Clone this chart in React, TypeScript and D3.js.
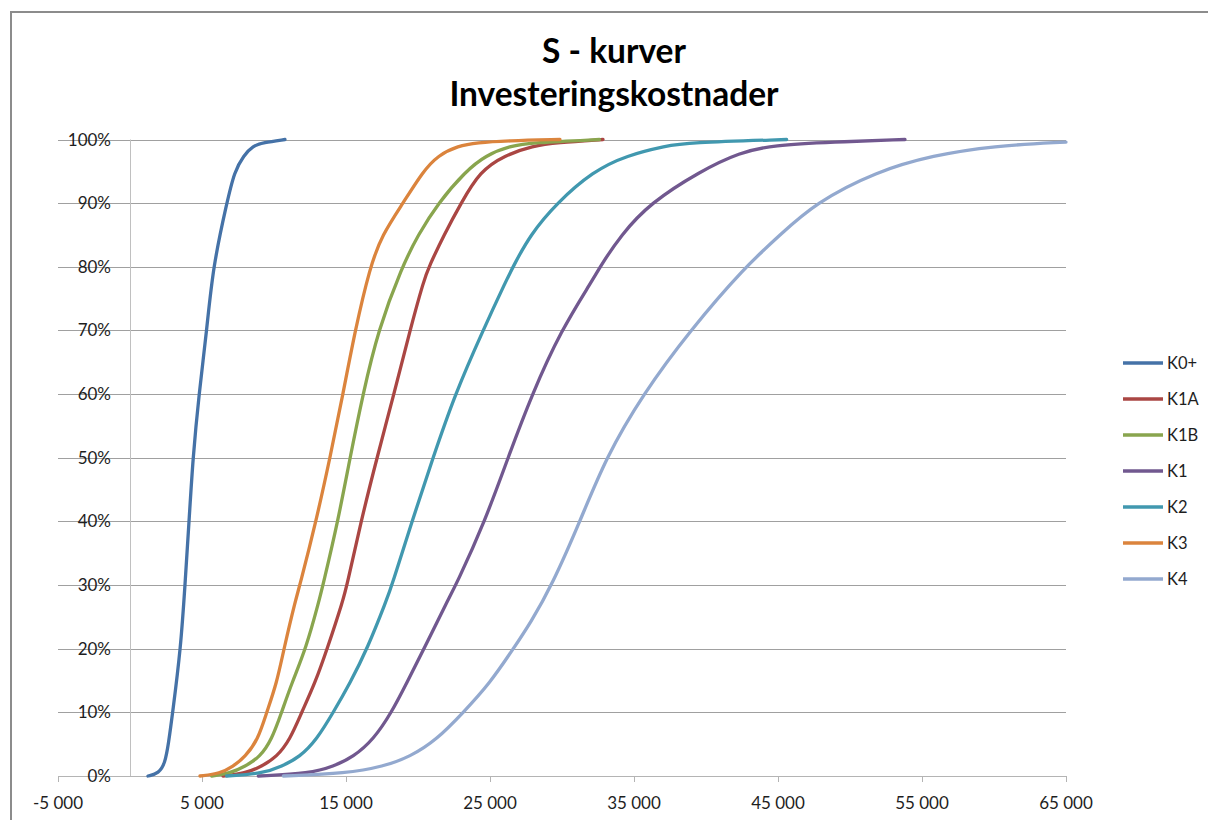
import React from "react";
import * as d3 from "d3";

// Cumulative share (%) of simulated outcomes at or below a given investment cost
type Pt = [number, number];

const seriesNames = ["K0+", "K1A", "K1B", "K1", "K2", "K3", "K4"];
const seriesColors = ["#4572A7", "#AA4643", "#89A54E", "#71588F", "#4198AF", "#DB843D", "#93A9CF"];

const k0plus: Pt[] = [
  [1250, 0], [2000, 0.4], [2430, 2], [2670, 5], [2965, 10], [3520, 20], [3820, 30], [4100, 40],
  [4370, 50], [4790, 60], [5330, 70], [5760, 80], [6720, 90], [7250, 95], [7900, 97.5],
  [8540, 99], [9240, 99.5], [10760, 100],
];
const k1a: Pt[] = [
  [6460, 0], [7990, 0.4], [9140, 1.5], [10190, 3], [11110, 5.7], [11920, 10], [12850, 14.6],
  [13700, 20], [14810, 27.7], [15070, 30], [16040, 40], [17150, 50], [18330, 60], [19440, 70],
  [20420, 78], [20760, 80], [21800, 85], [22990, 90], [24300, 95], [26000, 97.5], [27990, 99],
  [29650, 99.5], [32850, 100],
];
const k1b: Pt[] = [
  [5670, 0], [6940, 0.4], [7990, 1.5], [9030, 3], [9840, 5.7], [10530, 10], [11230, 14.6],
  [12220, 20], [13150, 27.7], [13400, 30], [14440, 40], [15280, 50], [16180, 60], [17220, 70],
  [18890, 80], [20000, 85], [21390, 90], [23300, 95], [24700, 97.5], [26390, 99], [28000, 99.5],
  [32600, 100],
];
const k1: Pt[] = [
  [8910, 0], [12500, 0.4], [14120, 1.5], [15510, 3], [16900, 5.7], [18170, 10], [19210, 14.6],
  [20420, 20], [22080, 27.7], [22640, 30], [24650, 40], [26250, 50], [27920, 60], [29930, 70],
  [32150, 78], [32640, 80], [34100, 85], [36110, 90], [39580, 95], [42360, 98], [44650, 99.1],
  [48820, 99.6], [53820, 100],
];
const k2: Pt[] = [
  [6710, 0], [9240, 0.4], [10530, 1.5], [11800, 3], [12960, 5.7], [14120, 10], [15280, 14.6],
  [16480, 20], [17830, 27.7], [18190, 30], [19580, 40], [21040, 50], [22570, 60], [24510, 70],
  [26160, 78], [26600, 80], [27780, 85], [29630, 90], [32150, 95], [34490, 97.5], [37270, 99],
  [38660, 99.5], [45600, 100],
];
const k3: Pt[] = [
  [4860, 0], [6250, 0.4], [7150, 1.5], [7990, 3], [8890, 5.7], [9490, 10], [10190, 14.6],
  [10690, 20], [11500, 27.7], [11800, 30], [12920, 40], [13890, 50], [14790, 60], [15630, 70],
  [16670, 80], [17500, 85], [18960, 90], [20350, 95], [21390, 97.5], [22780, 99], [24100, 99.5],
  [26180, 99.8], [29860, 100],
];
const k4: Pt[] = [
  [10650, 0], [15050, 0.4], [17590, 1.5], [19440, 3], [21300, 5.7], [23150, 10], [25000, 14.6],
  [26620, 20], [27800, 24], [29310, 30], [31250, 40], [33040, 50], [35620, 60], [38890, 70],
  [42710, 80], [45140, 85], [47570, 90], [51850, 95], [55760, 97.5], [59930, 99], [65000, 99.6],
];
const seriesData: Pt[][] = [k0plus, k1a, k1b, k1, k2, k3, k4];

const xTicks = [-5000, 5000, 15000, 25000, 35000, 45000, 55000, 65000];
const yTicks = [0, 10, 20, 30, 40, 50, 60, 70, 80, 90, 100];
const titleLines = ["S - kurver", "Investeringskostnader"];

const W = 1208;
const H = 820;
const plot = { left: 58, right: 1066, top: 139.5, bottom: 776 };
const FONT = "Lato, 'Open Sans', sans-serif";

// thousands separated by a space, plain hyphen for negatives
const fmtCost = (v: number) => {
  const s = d3.format(",")(Math.abs(v)).replace(/,/g, " ");
  return v < 0 ? "-" + s : s;
};

export default function App() {
  const x = d3.scaleLinear().domain([-5000, 65000]).range([plot.left, plot.right]);
  const y = d3.scaleLinear().domain([0, 100]).range([plot.bottom, plot.top]);
  const line = d3
    .line<Pt>()
    .x((d) => x(d[0]))
    .y((d) => y(d[1]))
    .curve(d3.curveBasis);

  const legendTop = 363;
  const legendStep = 36;

  return (
    <svg
      width={W}
      height={H}
      style={{ position: "absolute", left: 0, top: 0, background: "#fff" }}
      fontFamily={FONT}
    >
      <rect x={0} y={0} width={W} height={H} fill="#fff" />
      {/* chart frame */}
      <rect x={11} y={12} width={W + 20} height={H + 20} fill="none" stroke="#8c8c8c" strokeWidth={2} />

      {/* title */}
      {titleLines.map((t, i) => (
        <text
          key={t}
          x={614}
          y={63 + i * 43}
          textAnchor="middle"
          fontSize={33.5}
          fontWeight="bold"
          fill="#000"
        >
          {t}
        </text>
      ))}

      {/* horizontal gridlines */}
      {yTicks.map((t) => (
        <line
          key={t}
          x1={plot.left}
          x2={plot.right}
          y1={Math.round(y(t)) + 0.5}
          y2={Math.round(y(t)) + 0.5}
          stroke={t === 0 ? "#b4b4b4" : "#a0a0a0"}
          strokeWidth={1}
        />
      ))}

      {/* vertical axis at zero cost */}
      <line x1={Math.round(x(0)) + 0.5} x2={Math.round(x(0)) + 0.5} y1={plot.top} y2={plot.bottom} stroke="#c0c0c0" />

      {/* x ticks */}
      {xTicks.map((t) => (
        <g key={t}>
          <line
            x1={Math.round(x(t)) + 0.5}
            x2={Math.round(x(t)) + 0.5}
            y1={plot.bottom}
            y2={plot.bottom + 6}
            stroke="#b4b4b4"
          />
          <text x={x(t)} y={809} textAnchor="middle" fontSize={17} fill="#1e1e1e">
            {fmtCost(t)}
          </text>
        </g>
      ))}

      {/* y tick labels */}
      {yTicks.map((t) => (
        <text key={t} x={111} y={y(t) + 6} textAnchor="end" fontSize={17} fill="#1e1e1e">
          {t}%
        </text>
      ))}

      {/* S-curves */}
      <g clipPath="url(#plotClip)">
        {seriesData.map((d, i) => (
          <path
            key={seriesNames[i]}
            d={line(d) || ""}
            fill="none"
            stroke={seriesColors[i]}
            strokeWidth={3.3}
            strokeLinejoin="round"
            strokeLinecap="round"
          />
        ))}
      </g>
      <defs>
        <clipPath id="plotClip">
          <rect x={plot.left} y={plot.top - 4} width={plot.right - plot.left + 2} height={plot.bottom - plot.top + 8} />
        </clipPath>
      </defs>

      {/* legend */}
      {seriesNames.map((n, i) => (
        <g key={n}>
          <line
            x1={1123}
            x2={1163}
            y1={legendTop + i * legendStep}
            y2={legendTop + i * legendStep}
            stroke={seriesColors[i]}
            strokeWidth={3.3}
          />
          <text x={1167} y={legendTop + i * legendStep + 6} fontSize={16.5} fill="#1e1e1e">
            {n}
          </text>
        </g>
      ))}
    </svg>
  );
}
